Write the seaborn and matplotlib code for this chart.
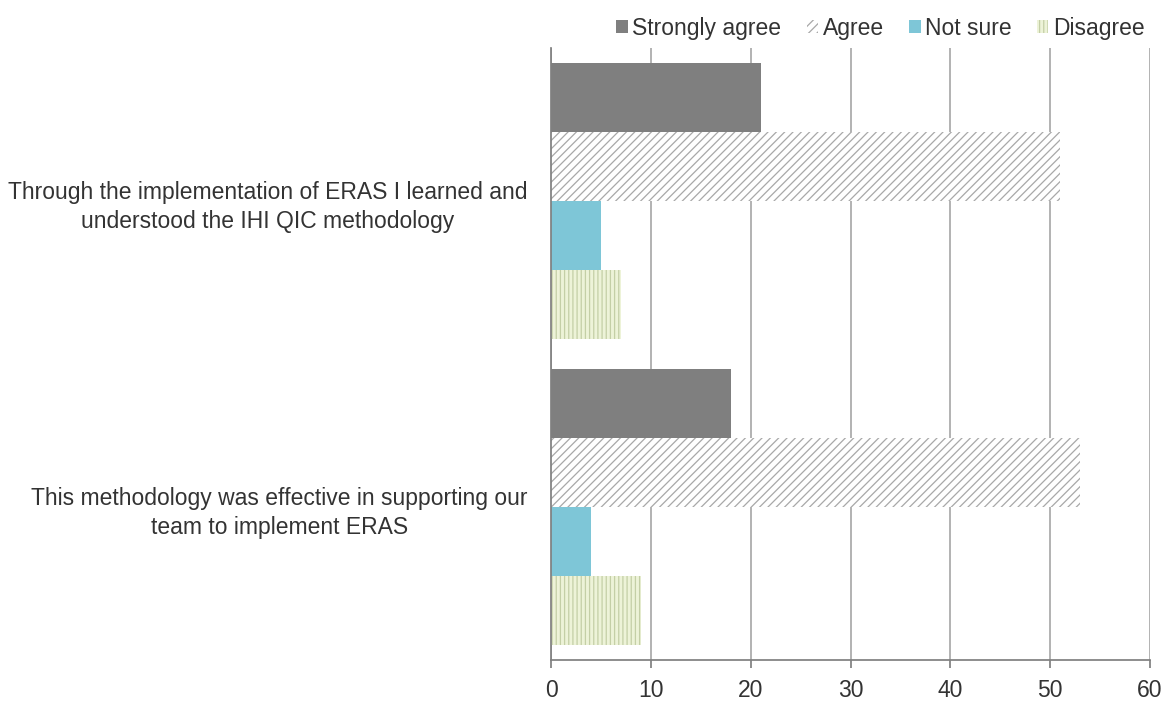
import matplotlib
matplotlib.use("Agg")
import matplotlib.pyplot as plt
import seaborn as sns
import pandas as pd

statements = [
    "Through the implementation of ERAS I learned and\nunderstood the IHI QIC methodology",
    "This methodology was effective in supporting our\nteam to implement ERAS",
]
responses = ["Strongly agree", "Agree", "Not sure", "Disagree"]
strongly_agree = [21, 18]
agree = [51, 53]
not_sure = [5, 4]
disagree = [7, 9]

series = [strongly_agree, agree, not_sure, disagree]
rows = []
for resp, vals in zip(responses, series):
    for stmt, v in zip(statements, vals):
        rows.append({"statement": stmt, "response": resp, "value": v})
df = pd.DataFrame(rows)

face_colors = ["#7f7f7f", "#ffffff", "#7ec6d7", "#edf3d8"]
hatch_colors = ["#7f7f7f", "#a8a8a8", "#7ec6d7", "#c4cfa6"]
hatches = ["", "////", "", "||||"]

sns.set_theme(style="white")
plt.rcParams["font.family"] = ["Liberation Sans", "DejaVu Sans"]
plt.rcParams["hatch.linewidth"] = 0.9

FS = 16.5

fig = plt.figure(figsize=(11.66, 7.04), dpi=100)
ax = fig.add_axes([0.4726, 0.0625, 0.5137, 0.8693])

sns.barplot(data=df, y="statement", x="value", hue="response",
            hue_order=responses, palette=face_colors, orient="h",
            width=0.9, gap=0, ax=ax, legend=True, saturation=1)

for cont, hc, h in zip(ax.containers, hatch_colors, hatches):
    for bar in cont:
        bar.set_edgecolor(hc)
        bar.set_hatch(h)
        bar.set_linewidth(0)

# legend handles follow the bar styling
leg = ax.legend(loc="lower right", bbox_to_anchor=(1.012, 0.993), ncol=4,
                frameon=False, fontsize=FS, handlelength=0.5,
                handleheight=0.5, handletextpad=0.2, columnspacing=1.1,
                borderaxespad=0.15)
for patch, hc, h in zip(leg.get_patches(), hatch_colors, hatches):
    patch.set_edgecolor(hc)
    patch.set_hatch(h)
    patch.set_linewidth(0)
for t in leg.get_texts():
    t.set_color("#333333")

ax.set_xlim(0, 60)
ax.set_xticks(range(0, 61, 10))
ax.xaxis.grid(True, color="#a6a6a6", linewidth=1.2)
ax.set_axisbelow(True)
ax.set_xlabel("")
ax.set_ylabel("")
for side in ["top", "right"]:
    ax.spines[side].set_visible(False)
ax.spines["left"].set_color("#808080")
ax.spines["bottom"].set_color("#808080")
ax.tick_params(axis="x", bottom=True, length=6, color="#808080",
               labelsize=FS, labelcolor="#333333", pad=8)
ax.tick_params(axis="y", left=False, labelsize=FS, labelcolor="#333333", pad=11)
for lbl in ax.get_yticklabels():
    lbl.set_multialignment("center")
    lbl.set_linespacing(1.35)

fig.savefig("out.png", dpi=100, facecolor="white")
